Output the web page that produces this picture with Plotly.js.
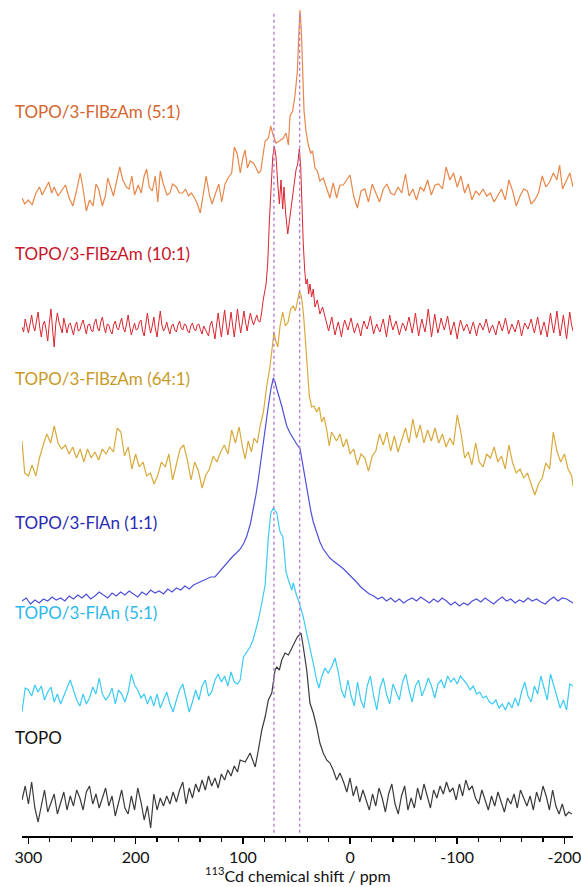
<!DOCTYPE html>
<html>
<head>
<meta charset="utf-8">
<script src="https://cdn.plot.ly/plotly-3.0.1.min.js"></script>
<style>html,body{margin:0;padding:0;background:#fff;}#chart{width:581px;height:887px;}</style>
</head>
<body>
<div id="chart"></div>
<script>
// ---- DATA: [chemical shift (ppm), intensity (a.u.)] ----
const seriesNames = ["TOPO/3-FlBzAm (5:1)", "TOPO/3-FlBzAm (10:1)", "TOPO/3-FlBzAm (64:1)", "TOPO/3-FlAn (1:1)", "TOPO/3-FlAn (5:1)", "TOPO"];
const referenceShifts = [71, 47];
const tickValues = [300, 200, 100, 0, -100, -200];
const tickLabels = ["300", "200", "100", "0", "-100", "-200"];
const axisTitle = "<sup>113</sup>Cd chemical shift / ppm";

const flbzam_5_1 = [[306,-10],[303.5,-16],[300,-12],[296.6,-17],[293,-5],[289.7,1],[287.2,-7],[284.5,-1],[281,6],[278.3,-5],[276,1],[272.4,-8],[269,-3],[265.5,3],[262,-10],[258.6,-18],[255.2,-3],[251.7,15],[249.3,1],[246,-23],[243,-12],[239.7,-18],[237,4],[234.5,-1],[231,-18],[228.3,-8],[226,10],[223,1],[220.7,-8],[218.3,4],[214.8,21],[212,8],[208.6,1],[206,-1],[203.5,12],[201,-7],[197.6,3],[194.8,-5],[192,12],[189.7,19],[187.3,1],[184.5,-3],[181.7,12],[179.3,-14],[177,17],[174.2,4],[170.7,-7],[168,-5],[165.5,4],[162,1],[159.3,-5],[156.2,-5],[153.5,-1],[150.7,-8],[148,-5],[145,-10],[142.4,-16],[139.7,-25],[137,-7],[134.2,12],[131,-8],[128.6,-16],[126,-7],[122.4,4],[119.7,-14],[116.6,4],[113.8,10],[110.4,15],[107.9,41],[105.2,34],[102.4,15],[100,30],[97.9,38],[95.7,20],[93.2,27],[90.1,25],[87.6,20],[85.4,15],[83.3,17],[79.2,47],[76.1,50],[74,62],[71.5,52],[69,45],[65.9,47],[62.2,50],[59.7,55],[57.5,43],[56,72],[53.5,77],[51.3,93],[49.1,117],[47.9,150],[46.7,178],[45.4,157],[44.2,113],[42.9,77],[41.1,57],[38.9,43],[36.7,35],[34.9,37],[32.7,20],[30.5,17],[28.1,7],[25,10],[21.9,0],[18.8,-10],[15.7,5],[12.5,-10],[9.4,3],[6.3,3],[3.2,8],[0,13],[-3.4,-8],[-6.9,-20],[-10.3,-3],[-13.8,-1],[-17.2,-14],[-20.7,4],[-24.1,-5],[-27.5,-14],[-31,-1],[-34.4,4],[-37.9,-5],[-41.3,-7],[-44.8,1],[-48.2,-5],[-51.7,14],[-55.1,-8],[-58.6,-1],[-62,-12],[-65.5,1],[-68.9,-3],[-72.4,8],[-75.8,-7],[-79.3,3],[-82.7,4],[-86.2,-1],[-89.6,21],[-93.1,8],[-96.5,15],[-100,1],[-103.4,12],[-106.9,-5],[-110.3,4],[-113.7,-12],[-117.2,-3],[-120.6,-7],[-124.1,-1],[-127.5,-8],[-131,-5],[-134.4,-14],[-137.9,-7],[-141.3,-1],[-144.8,-12],[-148.2,8],[-151.7,-3],[-155.1,-18],[-158.6,-8],[-162,-1],[-165.5,-3],[-168.9,-16],[-172.4,-12],[-175.8,-5],[-179.3,12],[-182.7,1],[-186.2,6],[-189.6,15],[-193,8],[-195.5,23],[-198.2,-1],[-201.7,8],[-205.1,15],[-208,1]];

const flbzam_10_1 = [[306,0],[304.5,-5],[303,8],[301.5,2],[300,-6],[298.5,3],[297,12],[295.5,1],[294,-4],[292.5,6],[291,15],[289.5,0],[288,-10],[286.5,2],[285,6],[283.5,-3],[282,-14],[280.5,4],[279,18],[277.5,-2],[276,-20],[274.5,3],[273,14],[271.5,5],[270,-2],[268.5,-6],[267,9],[265.5,1],[264,-6],[262.5,2],[261,4],[259.5,-2],[258,-8],[256.5,1],[255,5],[253.5,-4],[252,-3],[250.5,3],[249,7],[247.5,0],[246,-7],[244.5,2],[243,3],[241.5,-3],[240,-5],[238.5,4],[237,8],[235.5,-1],[234,-4],[232.5,5],[231,10],[229.5,0],[228,-6],[226.5,3],[225,2],[223.5,-4],[222,-7],[220.5,2],[219,6],[217.5,-1],[216,-3],[214.5,4],[213,9],[211.5,-1],[210,-5],[208.5,3],[207,12],[205.5,1],[204,-8],[202.5,-2],[201,4],[199.5,-3],[198,-2],[196.5,5],[195,7],[193.5,-4],[192,-9],[190.5,3],[189,14],[187.5,2],[186,-6],[184.5,1],[183,10],[181.5,-2],[180,-10],[178.5,4],[177,16],[175.5,2],[174,-4],[172.5,-1],[171,5],[169.5,-2],[168,-7],[166.5,1],[165,3],[163.5,-3],[162,-5],[160.5,2],[159,6],[157.5,-1],[156,-3],[154.5,3],[153,2],[151.5,-4],[150,-6],[148.5,1],[147,4],[145.5,-2],[144,-4],[142.5,2],[141,3],[139.5,-3],[138,-7],[136.5,1],[135,-2],[133.5,-6],[132,-9],[130.5,2],[129,6],[127.5,-3],[126,-12],[124.5,2],[123,14],[121.5,1],[120,-10],[118.5,4],[117,17],[115.5,3],[114,-8],[112.5,2],[111,15],[109.5,2],[108,-10],[106.5,4],[105,18],[103.5,5],[102,-6],[100.5,4],[99,16],[97.5,5],[96,-4],[94.5,6],[93,14],[91.5,7],[90,2],[88.5,7],[87,12],[85.5,6],[84,5],[82.5,14],[81,27],[78.3,43],[76.8,63],[75.2,107],[73.6,147],[72.1,170],[70.6,181],[69,170],[67.4,143],[65.9,123],[64.4,147],[62.8,118],[61.6,140],[60,113],[58.1,93],[56,110],[54.1,123],[52.3,137],[50.4,157],[48.8,163],[47.3,178],[46,160],[44.8,113],[43.6,83],[42.3,57],[41.1,43],[39.8,48],[38.6,33],[37.4,43],[35.8,30],[34.3,38],[32.7,20],[30.5,27],[28.1,13],[25.6,20],[23.1,8],[21.5,2],[20,-4],[18.5,3],[17,10],[15.5,1],[14,-8],[12.5,-1],[11,5],[9.5,-2],[8,-10],[6.5,0],[5,7],[3.5,2],[2,-3],[0.5,3],[-1,9],[-2.5,1],[-4,-6],[-5.5,-1],[-7,4],[-8.5,-2],[-10,-9],[-11.5,0],[-13,6],[-14.5,1],[-16,-2],[-17.5,4],[-19,11],[-20.5,2],[-22,-7],[-23.5,-1],[-25,3],[-26.5,-2],[-28,-5],[-29.5,2],[-31,8],[-32.5,-1],[-34,-10],[-35.5,1],[-37,12],[-38.5,3],[-40,-3],[-41.5,2],[-43,6],[-44.5,-1],[-46,-8],[-47.5,-2],[-49,4],[-50.5,1],[-52,-4],[-53.5,3],[-55,10],[-56.5,2],[-58,-6],[-59.5,3],[-61,14],[-62.5,2],[-64,-9],[-65.5,0],[-67,8],[-68.5,1],[-70,-5],[-71.5,6],[-73,18],[-74.5,4],[-76,-10],[-77.5,1],[-79,13],[-80.5,3],[-82,-6],[-83.5,1],[-85,9],[-86.5,2],[-88,-3],[-89.5,4],[-91,11],[-92.5,1],[-94,-8],[-95.5,-1],[-97,5],[-98.5,-3],[-100,-12],[-101.5,-1],[-103,7],[-104.5,2],[-106,-4],[-107.5,0],[-109,3],[-110.5,-2],[-112,-7],[-113.5,0],[-115,5],[-116.5,-2],[-118,-9],[-119.5,-1],[-121,4],[-122.5,1],[-124,-3],[-125.5,2],[-127,8],[-128.5,1],[-130,-6],[-131.5,-1],[-133,2],[-134.5,-3],[-136,-8],[-137.5,0],[-139,6],[-140.5,1],[-142,-4],[-143.5,2],[-145,9],[-146.5,1],[-148,-7],[-149.5,-2],[-151,3],[-152.5,-1],[-154,-5],[-155.5,1],[-157,7],[-158.5,0],[-160,-9],[-161.5,-2],[-163,4],[-164.5,1],[-166,-2],[-167.5,3],[-169,8],[-170.5,0],[-172,-6],[-173.5,2],[-175,10],[-176.5,1],[-178,-8],[-179.5,-1],[-181,5],[-182.5,-2],[-184,-10],[-185.5,2],[-187,14],[-188.5,3],[-190,-6],[-191.5,4],[-193,16],[-194.5,2],[-196,-9],[-197.5,1],[-199,12],[-200.5,0],[-202,-12],[-203.5,2],[-205,15],[-206.5,3],[-208,-4]];

const flbzam_64_1 = [[306,16],[303.5,-16],[300,-19],[296.6,-8],[293.1,-19],[289.7,-1],[286.2,12],[282.8,23],[279.3,14],[275.9,31],[272.4,14],[269,8],[265.5,12],[262.1,3],[258.6,10],[255.2,-1],[251.7,8],[248.3,-5],[244.9,8],[241.4,-1],[238,5],[234.5,-3],[231.1,8],[227.6,3],[224.2,10],[220.7,5],[217.2,29],[213.8,25],[210.4,1],[206.9,10],[203.5,-12],[200,3],[196.6,-10],[193.1,-5],[189.7,-19],[186.2,-16],[182.8,-27],[179.3,-18],[175.9,-5],[172.4,-10],[169,3],[165.5,-23],[162.1,-8],[158.6,8],[155.2,12],[151.7,-3],[148.3,-23],[144.9,-5],[141.4,-14],[138,-31],[134.5,-18],[131.1,-12],[127.6,1],[124.2,-5],[120.7,5],[117.3,12],[113.8,3],[110.4,27],[106.9,14],[103.5,30],[100,8],[97.8,-2],[95,16],[92,5],[89.5,19],[86.5,14],[83.9,31],[80.8,45],[77.7,71],[74.6,91],[72.4,111],[70.9,125],[69,115],[67.4,110],[65.3,131],[62.8,145],[60.3,131],[57.8,135],[55.4,148],[52.9,151],[51,146],[49.1,155],[47.3,165],[45.4,161],[43.6,145],[41.7,118],[39.8,91],[38,61],[35.8,50],[33.6,51],[31.1,45],[28.7,50],[26.5,35],[24.3,40],[21.9,28],[19.4,11],[17.2,25],[15,21],[12.6,16],[9.4,23],[6.3,10],[3.2,18],[0,3],[-3.4,8],[-6.9,-8],[-10.3,3],[-13.8,-1],[-17.2,-14],[-20.7,1],[-24.1,6],[-27.5,23],[-31,12],[-34.4,25],[-37.9,6],[-41.3,21],[-44.8,5],[-48.2,16],[-51.7,29],[-55.1,14],[-58.6,38],[-62,19],[-65.5,32],[-68.9,14],[-72.4,27],[-75.8,16],[-79.3,29],[-82.7,14],[-86.2,23],[-89.6,10],[-93.1,19],[-96.5,12],[-100,42],[-103.4,25],[-106.9,-1],[-110.3,5],[-113.7,-8],[-117.2,14],[-120.6,-5],[-124.1,-10],[-127.5,3],[-131,-1],[-134.4,10],[-137.9,-5],[-141.3,1],[-144.8,-12],[-148.2,12],[-151.7,-6],[-155.1,-16],[-158.6,-12],[-162,-21],[-165.5,-16],[-168.9,-27],[-172.4,-38],[-175.8,-27],[-179.3,-21],[-182.7,-6],[-186.2,-12],[-189.6,25],[-193,6],[-196.5,-5],[-200,3],[-203.4,-12],[-206.8,-19],[-208,-29]];

const flan_1_1 = [[306,0],[302,3],[298,-3],[294,1],[290,-2],[286,2],[282,0],[278,4],[274,1],[270,3],[266,0],[262,5],[258,2],[254,6],[250,3],[246,7],[242,2],[238,5],[234,9],[230,6],[226,3],[222,8],[218,5],[214,9],[210,6],[206,10],[202,7],[198,4],[194,9],[190,6],[186,11],[182,8],[178,10],[174,7],[170,12],[166,9],[162,13],[158,11],[154,15],[150,12],[146,16],[142,18],[138,20],[134,22],[130,24],[126,24],[122,29],[118,35],[114,40],[110,44],[106,48],[102.4,52],[99,58],[96.3,65],[93,77],[90.1,92],[87.8,106],[85.5,122],[83,140],[80.8,159],[78.5,177],[76.2,195],[73.8,212],[71.5,223],[70,219],[68.3,212],[66,204],[63.7,195],[61.4,185],[59,175],[56,168],[52.9,162],[49.8,157],[46.6,152],[43.6,132],[41.2,117],[38.9,102],[36.6,90],[34.3,79],[31.2,68],[28.1,59],[25,52],[21.9,47],[18.8,43],[15.6,40],[12.5,37],[9.4,35],[6,32],[2,28],[-2,24],[-6,19],[-10,14],[-14,10],[-18,7],[-22,5],[-26,2],[-30,4],[-34,0],[-38,3],[-42,-1],[-46,2],[-50,-2],[-54,1],[-58,3],[-62,0],[-66,4],[-70,1],[-74,-2],[-78,2],[-82,-1],[-86,3],[-90,0],[-94,-4],[-98,-1],[-102,-5],[-106,-2],[-110,-4],[-114,0],[-118,2],[-122,-1],[-126,3],[-130,0],[-134,-3],[-138,1],[-142,4],[-146,0],[-150,2],[-154,-2],[-158,1],[-162,-1],[-166,3],[-170,0],[-174,2],[-178,-1],[-182,-3],[-186,1],[-190,4],[-194,0],[-198,3],[-202,2],[-206,-1],[-208,-2]];

const flan_5_1 = [[306,-22],[303,2],[300,0],[297,-6],[294,5],[291,-2],[288,4],[285,-10],[282,-2],[279,3],[276,-12],[273,-4],[270,-14],[267,-6],[264,2],[261,10],[258,0],[255,-10],[252,-16],[249,-4],[246,-14],[243,-8],[240,3],[237,-4],[234,12],[231,-4],[228,-10],[225,-6],[222,2],[219,-14],[216,0],[213,-4],[210,-12],[207,-2],[204,16],[201,5],[198,0],[195,-8],[192,-4],[189,-14],[186,-6],[183,-16],[180,-4],[177,-18],[174,-10],[171,-2],[168,-14],[165,-22],[162,-10],[159,0],[156,6],[153,-8],[150,-22],[147,-12],[144,0],[141,-10],[138,4],[135,10],[132,-6],[129,-2],[126,10],[123,16],[120,8],[117,14],[114,4],[111,18],[108,8],[105,6],[102.5,10],[99.4,33],[96,38],[93.2,43],[90.5,50],[88.5,57],[85.5,70],[82.3,87],[79.2,105],[76.2,153],[73.9,177],[71.5,182],[70,180],[68.3,177],[66.5,165],[65.2,158],[62.6,153],[59.7,118],[57.5,110],[55.6,104],[54.3,100],[52.9,107],[50,95],[47.3,87],[43.6,73],[40.5,57],[37.4,43],[34.3,27],[31.2,10],[29,2],[26.5,13],[23.4,22],[20.4,17],[17.2,23],[14,32],[11,18],[8,0],[5,-8],[2,10],[-1,-6],[-4,-16],[-7,8],[-10,-10],[-13,-18],[-16,4],[-19,14],[-22,-6],[-25,-20],[-28,2],[-31,12],[-34,-4],[-37,-14],[-40,6],[-43,-2],[-46,-10],[-49,8],[-52,16],[-55,0],[-58,-12],[-61,4],[-64,10],[-67,-6],[-70,2],[-73,12],[-76,4],[-79,-8],[-82,6],[-85,10],[-88,2],[-91,14],[-94,8],[-97,12],[-100,6],[-103,14],[-106,10],[-109,6],[-112,0],[-115,4],[-118,-4],[-121,-2],[-124,-8],[-127,-6],[-130,-12],[-133,-14],[-136,-10],[-139,-18],[-142,-14],[-145,-20],[-148,-12],[-151,-18],[-154,-8],[-157,-16],[-160,-2],[-163,8],[-166,-6],[-169,-12],[-172,4],[-175,-4],[-178,14],[-181,2],[-184,-10],[-187,16],[-190,4],[-193,-6],[-196,-18],[-199,-10],[-202,-20],[-205,6],[-208,4]];

const topo = [[306,0],[303,14],[300,-4],[297,18],[294,-8],[291,-22],[288,-6],[285,10],[282,-12],[279,-4],[276,6],[273,-14],[270,-2],[267,8],[264,-10],[261,4],[258,-6],[255,10],[252,2],[249,-10],[246,8],[243,14],[240,-4],[237,6],[234,-8],[231,2],[228,12],[225,-6],[222,4],[219,-16],[216,-4],[213,10],[210,-8],[207,-14],[204,4],[201,-10],[198,12],[195,-2],[192,-20],[189,-6],[186,-28],[183,6],[180,-10],[177,2],[174,-6],[171,4],[168,-4],[165,8],[162,-2],[159,10],[156,18],[153,-4],[150,12],[147,2],[144,16],[141,8],[138,20],[135,10],[132,24],[129,14],[126,22],[123,12],[120,26],[117,20],[114,30],[111,24],[108,34],[105,28],[102.5,40],[97.8,38],[93.2,47],[90,38],[88.5,33],[85.5,50],[82.3,70],[79.2,83],[76.2,100],[73,107],[71.5,120],[69.9,130],[68.3,133],[65.9,130],[63.7,140],[60.6,147],[57.5,145],[54.4,152],[51.3,158],[49.2,163],[47.3,165],[45.7,167],[43.6,153],[40.4,130],[37.4,97],[34.3,87],[31.1,73],[28.1,57],[25,47],[21.8,40],[18.7,37],[15.7,30],[12.5,20],[9.4,27],[6,18],[3,8],[0,22],[-3,4],[-6,14],[-9,-2],[-12,10],[-15,0],[-18,-10],[-21,6],[-24,-6],[-27,12],[-30,2],[-33,-12],[-36,6],[-39,16],[-42,-4],[-45,-14],[-48,4],[-51,14],[-54,-10],[-57,2],[-60,-8],[-63,12],[-66,0],[-69,16],[-72,4],[-75,-8],[-78,10],[-81,2],[-84,14],[-87,6],[-90,18],[-93,8],[-96,12],[-99,0],[-102,16],[-105,4],[-108,20],[-111,10],[-114,14],[-117,2],[-120,-4],[-123,10],[-126,0],[-129,-10],[-132,4],[-135,-6],[-138,8],[-141,-2],[-144,-12],[-147,2],[-150,-4],[-153,6],[-156,-8],[-159,10],[-162,2],[-165,-6],[-168,4],[-171,-10],[-174,8],[-177,-2],[-180,14],[-183,4],[-186,-10],[-189,10],[-192,-6],[-195,-14],[-198,-4],[-201,-16],[-204,-12],[-207,-14]];

const spectra = [flbzam_5_1, flbzam_10_1, flbzam_64_1, flan_1_1, flan_5_1, topo];

// ---- presentation (stack offsets, colours, label positions) ----
const stackOffset = [648, 509, 379, 235, 146, 36];
const lineColors  = ["#E8874A", "#D9262F", "#D8AA3C", "#5050D8", "#3CCBF2", "#3a3a3a"];
const lineWidths  = [1.2, 1.0, 1.2, 1.2, 1.2, 1.2];
const labelColors = ["#D4652E", "#C8142A", "#C99A28", "#2A2AB4", "#2DB9EC", "#111111"];
const labelY      = [112, 253, 378, 522, 612, 737]; // px from top

const W = 581, H = 887, M = {l: 22, r: 8, t: 2, b: 51};
const plotH = H - M.t - M.b;
const plotW = W - M.l - M.r;
const FONT = 'Lato, "Open Sans", sans-serif';

const traces = spectra.map((s, i) => ({
  x: s.map(p => p[0]),
  y: s.map(p => p[1] + stackOffset[i]),
  type: 'scatter', mode: 'lines',
  line: {color: lineColors[i], width: lineWidths[i]},
  hoverinfo: 'skip'
}));

const shapes = referenceShifts.map(v => ({
  type: 'line', xref: 'x', yref: 'paper', x0: v, x1: v, y0: 0.004, y1: 0.987,
  line: {color: '#B57FD0', width: 1.4, dash: '3px,3px'}
}));

const annotations = seriesNames.map((n, i) => ({
  text: n, xref: 'paper', yref: 'paper',
  x: (13 - M.l) / plotW, y: (H - M.b - labelY[i]) / plotH,
  xanchor: 'left', yanchor: 'middle', showarrow: false,
  font: {family: FONT, size: 17, color: labelColors[i]}
}));
annotations.push({
  text: axisTitle, xref: 'paper', yref: 'paper',
  x: 0.5, y: (H - M.b - 875) / plotH, xanchor: 'center', yanchor: 'middle',
  showarrow: false, font: {family: FONT, size: 16, color: '#111'}
});

const layout = {
  width: W, height: H, margin: M,
  paper_bgcolor: '#fff', plot_bgcolor: '#fff',
  showlegend: false,
  xaxis: {
    range: [306, -208], showgrid: false, zeroline: false,
    showline: true, linecolor: '#000', linewidth: 1.5,
    ticks: 'outside', ticklen: 6, tickwidth: 1.5, tickcolor: '#000',
    tickmode: 'array', tickvals: tickValues, ticktext: tickLabels,
    ticklabeloverflow: 'allow', ticklabelstandoff: 0,
    minor: {tickmode: 'linear', tick0: 0, dtick: 20, ticks: 'outside', ticklen: 4, tickwidth: 1.2, tickcolor: '#000'},
    tickfont: {family: FONT, size: 16, color: '#111'},
    automargin: false
  },
  yaxis: {range: [0, plotH], visible: false, fixedrange: true},
  shapes: shapes,
  annotations: annotations
};

Plotly.newPlot('chart', traces, layout, {staticPlot: true, displayModeBar: false});
</script>
</body>
</html>
